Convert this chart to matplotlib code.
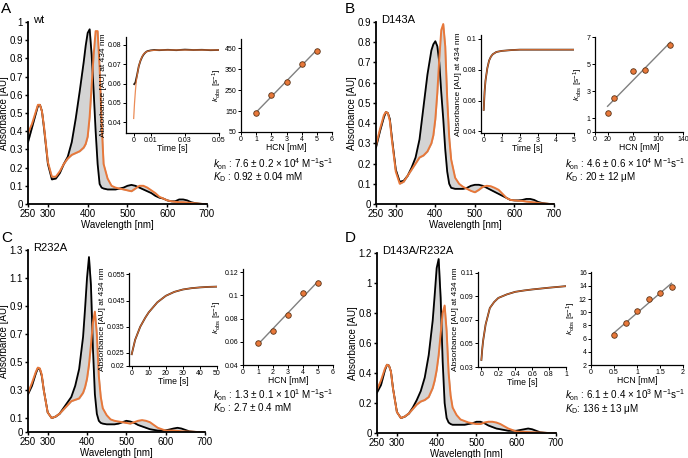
import matplotlib
matplotlib.use('Agg')
import matplotlib.pyplot as plt
import numpy as np

plt.rcParams['font.family'] = ['Liberation Sans', 'DejaVu Sans']
plt.rcParams['mathtext.fontset'] = 'custom'
plt.rcParams['mathtext.rm'] = 'Liberation Sans'
plt.rcParams['mathtext.it'] = 'Liberation Sans:italic'
plt.rcParams['axes.linewidth'] = 1.1

ORANGE = '#e8783a'
GRAY_FILL = '#d4d4d4'

# ---- spectra (shared wavelength grid) ----
WL = [250, 260, 270, 275, 280, 285, 290, 300, 310, 320, 330, 340, 350, 360, 370, 380, 390, 395,
      400, 405, 410, 415, 420, 425, 430, 435, 440, 450, 460, 470, 480, 490, 500, 510, 520, 530,
      540, 550, 560, 570, 580, 590, 600, 610, 620, 630, 640, 650, 660, 670, 680, 690, 700]

wt_start = [0.34, 0.42, 0.50, 0.54, 0.545, 0.51, 0.42, 0.22, 0.135, 0.14, 0.17, 0.22, 0.26, 0.34, 0.47, 0.62, 0.78, 0.87,
            0.94, 0.96, 0.82, 0.62, 0.40, 0.22, 0.11, 0.09, 0.085, 0.08, 0.08, 0.08, 0.085, 0.09, 0.10, 0.105, 0.10, 0.09,
            0.08, 0.07, 0.06, 0.045, 0.035, 0.03, 0.02, 0.015, 0.015, 0.025, 0.025, 0.02, 0.01, 0.005, 0.002, 0.0, 0.0]
wt_end = [0.39, 0.44, 0.51, 0.545, 0.545, 0.51, 0.43, 0.23, 0.15, 0.15, 0.18, 0.22, 0.25, 0.27, 0.28, 0.29, 0.31, 0.33,
          0.37, 0.48, 0.65, 0.82, 0.95, 0.95, 0.75, 0.45, 0.22, 0.14, 0.10, 0.09, 0.085, 0.08, 0.075, 0.07, 0.085, 0.10,
          0.10, 0.09, 0.075, 0.06, 0.04, 0.03, 0.02, 0.015, 0.012, 0.01, 0.01, 0.008, 0.006, 0.004, 0.002, 0.0, 0.0]

d143a_start = [0.28, 0.36, 0.43, 0.455, 0.45, 0.42, 0.33, 0.17, 0.11, 0.115, 0.14, 0.18, 0.23, 0.32, 0.48, 0.64, 0.76, 0.79,
               0.805, 0.78, 0.70, 0.55, 0.42, 0.27, 0.16, 0.10, 0.08, 0.075, 0.075, 0.075, 0.08, 0.09, 0.095, 0.095, 0.09, 0.08,
               0.07, 0.06, 0.05, 0.04, 0.03, 0.02, 0.018, 0.018, 0.02, 0.025, 0.025, 0.02, 0.01, 0.005, 0.002, 0.0, 0.0]
d143a_end = [0.29, 0.37, 0.44, 0.455, 0.45, 0.41, 0.32, 0.16, 0.10, 0.11, 0.14, 0.17, 0.20, 0.23, 0.24, 0.26, 0.30, 0.34,
             0.42, 0.55, 0.72, 0.86, 0.89, 0.78, 0.52, 0.33, 0.22, 0.13, 0.10, 0.085, 0.075, 0.065, 0.058, 0.07, 0.085, 0.09,
             0.088, 0.08, 0.07, 0.05, 0.03, 0.02, 0.018, 0.016, 0.015, 0.012, 0.01, 0.008, 0.005, 0.003, 0.002, 0.0, 0.0]

r232a_start = [0.27, 0.33, 0.42, 0.455, 0.45, 0.40, 0.30, 0.14, 0.10, 0.11, 0.13, 0.17, 0.21, 0.25, 0.33, 0.45, 0.68, 0.88,
               1.10, 1.25, 1.05, 0.60, 0.27, 0.13, 0.08, 0.065, 0.06, 0.055, 0.055, 0.055, 0.06, 0.07, 0.08, 0.075, 0.065, 0.05,
               0.04, 0.03, 0.02, 0.015, 0.01, 0.01, 0.012, 0.018, 0.025, 0.03, 0.025, 0.015, 0.005, 0.002, 0.0, 0.0, 0.0]
r232a_end = [0.28, 0.35, 0.43, 0.46, 0.455, 0.41, 0.30, 0.14, 0.10, 0.11, 0.13, 0.16, 0.19, 0.22, 0.23, 0.24, 0.28, 0.32,
             0.38, 0.48, 0.62, 0.78, 0.86, 0.70, 0.40, 0.25, 0.17, 0.12, 0.09, 0.08, 0.075, 0.07, 0.065, 0.06, 0.07, 0.08,
             0.085, 0.08, 0.07, 0.05, 0.03, 0.02, 0.01, 0.01, 0.01, 0.008, 0.005, 0.004, 0.003, 0.002, 0.0, 0.0, 0.0]

dm_start = [0.27, 0.32, 0.42, 0.455, 0.45, 0.41, 0.30, 0.14, 0.10, 0.11, 0.13, 0.17, 0.22, 0.28, 0.37, 0.52, 0.75, 0.92,
            1.10, 1.16, 0.90, 0.48, 0.20, 0.10, 0.07, 0.06, 0.055, 0.055, 0.055, 0.055, 0.06, 0.065, 0.075, 0.075, 0.065, 0.05,
            0.04, 0.03, 0.025, 0.02, 0.015, 0.015, 0.015, 0.02, 0.025, 0.03, 0.025, 0.015, 0.005, 0.002, 0.0, 0.0, 0.0]
dm_end = [0.29, 0.35, 0.43, 0.455, 0.45, 0.41, 0.30, 0.14, 0.10, 0.11, 0.13, 0.16, 0.19, 0.21, 0.22, 0.24, 0.30, 0.35,
          0.42, 0.52, 0.66, 0.80, 0.85, 0.68, 0.40, 0.25, 0.17, 0.12, 0.09, 0.08, 0.07, 0.065, 0.06, 0.06, 0.07, 0.075,
          0.075, 0.07, 0.06, 0.045, 0.03, 0.02, 0.01, 0.008, 0.008, 0.006, 0.005, 0.004, 0.003, 0.002, 0.0, 0.0, 0.0]

# ---- stopped-flow traces at 434 nm ----
wt_t = [0.0003, 0.001, 0.002, 0.003, 0.004, 0.005, 0.006, 0.007, 0.008, 0.01, 0.012, 0.015, 0.02, 0.025, 0.03, 0.035, 0.04, 0.045, 0.05]
wt_trace = [0.0597, 0.0605, 0.0645, 0.0690, 0.0718, 0.0738, 0.0752, 0.0761, 0.0767, 0.0771, 0.0773, 0.0772, 0.0774, 0.0772,
            0.0775, 0.0773, 0.0774, 0.0772, 0.0773]
wt_fit_t = [0.0, 0.0005, 0.001, 0.0015, 0.002, 0.003, 0.004, 0.005, 0.006, 0.008, 0.01, 0.015, 0.02, 0.05]
wt_fit = [0.042, 0.050, 0.056, 0.061, 0.064, 0.069, 0.072, 0.074, 0.0755, 0.0766, 0.0770, 0.0773, 0.0773, 0.0773]

d143a_t = [0, 0.05, 0.1, 0.2, 0.3, 0.4, 0.5, 0.7, 1.0, 1.5, 2, 3, 4, 5]
d143a_trace = [0.054, 0.066, 0.073, 0.081, 0.086, 0.0885, 0.090, 0.0915, 0.0922, 0.0927, 0.093, 0.093, 0.093, 0.093]

r232a_t = [0, 2, 5, 8, 10, 15, 20, 25, 30, 35, 40, 45, 50]
r232a_trace = [0.0245, 0.030, 0.035, 0.0385, 0.0405, 0.0443, 0.0468, 0.0483, 0.0492, 0.0497, 0.0500, 0.0502, 0.0503]

dm_t = [0, 0.01, 0.02, 0.05, 0.1, 0.15, 0.2, 0.3, 0.4, 0.5, 0.6, 0.8, 1.0]
dm_trace = [0.036, 0.045, 0.052, 0.066, 0.080, 0.085, 0.0885, 0.0915, 0.0937, 0.0948, 0.0957, 0.0972, 0.0985]

# ---- k_obs vs [HCN] ----
wt_hcn = [1, 2, 3, 4, 5]
wt_kobs = [141, 224, 287, 374, 437]
d143a_hcn = [20, 30, 60, 80, 120]
d143a_kobs = [1.4, 2.5, 4.5, 4.6, 6.4]
r232a_hcn = [1, 2, 3, 4, 5]
r232a_kobs = [0.0594, 0.0694, 0.0829, 0.1023, 0.1109]
dm_hcn = [0.5, 0.75, 1.0, 1.25, 1.5, 1.75]
dm_kobs = [6.5, 8.3, 10.2, 12.0, 12.9, 13.9]

W, H = 688, 458
fig = plt.figure(figsize=(W / 100, H / 100), dpi=100)


def px_axes(x0, y0, x1, y1):
    return fig.add_axes([x0 / W, 1 - y1 / H, (x1 - x0) / W, (y1 - y0) / H])


def style(ax, lw, tsize, tlen):
    for s in ['top', 'right']:
        ax.spines[s].set_visible(False)
    for s in ['left', 'bottom']:
        ax.spines[s].set_linewidth(lw)
    ax.tick_params(direction='out', length=tlen, width=lw * 0.8, labelsize=tsize, pad=1)


def fmt(v):
    return ('%g' % v)


panels = [
    dict(letter='A', name='wt', ox=0, oy=0, main=(28, 22, 207, 204), ylim=(0, 1.0),
         yticks=[0, 0.1, 0.2, 0.3, 0.4, 0.5, 0.6, 0.7, 0.8, 0.9, 1.0], start=wt_start, end=wt_end,
         k1=(126, 37, 219, 133), k1x=(-0.0045, 0.05), k1y=(0.0345, 0.084), k1xt=[0, 0.01, 0.03, 0.05],
         k1yt=[0.04, 0.05, 0.06, 0.07, 0.08], tr_t=wt_t, tr=wt_trace, fit_t=wt_fit_t, fit=wt_fit,
         k2=(241, 39, 332, 132), k2x=(0, 6), k2y=(50, 493), k2xt=[0, 1, 2, 3, 4, 5, 6], k2yt=[50, 150, 250, 350, 450],
         hcn=wt_hcn, kobs=wt_kobs,
         kon=r'$k_\mathrm{on}$ : 7.6 ± 0.2 × 10$^{4}$ M$^{-1}$s$^{-1}$', kd=r'$K_\mathrm{D}$ : 0.92 ± 0.04 mM',
         txt=(213, 164)),
    dict(letter='B', name='D143A', ox=344, oy=0, main=(376, 22, 554, 204), ylim=(0, 0.9),
         yticks=[0, 0.1, 0.2, 0.3, 0.4, 0.5, 0.6, 0.7, 0.8, 0.9], start=d143a_start, end=d143a_end,
         k1=(481, 35, 574, 133), k1x=(-0.15, 5), k1y=(0.039, 0.1025), k1xt=[0, 1, 2, 3, 4, 5],
         k1yt=[0.04, 0.06, 0.08, 0.1], tr_t=d143a_t, tr=d143a_trace, fit_t=d143a_t, fit=d143a_trace,
         k2=(595, 37, 683, 132), k2x=(0, 140), k2y=(0, 7), k2xt=[0, 20, 60, 100, 140], k2yt=[0, 1, 3, 5, 7],
         hcn=d143a_hcn, kobs=d143a_kobs,
         kon=r'$k_\mathrm{on}$ : 4.6 ± 0.6 × 10$^{4}$ M$^{-1}$s$^{-1}$', kd=r'$K_\mathrm{D}$ : 20 ± 12 μM',
         txt=(565, 164)),
    dict(letter='C', name='R232A', ox=0, oy=229, main=(28, 250, 205, 432), ylim=(0, 1.3),
         yticks=[0, 0.1, 0.3, 0.5, 0.7, 0.9, 1.1, 1.3], start=r232a_start, end=r232a_end,
         k1=(129, 273, 217, 366), k1x=(-1.6, 50), k1y=(0.02, 0.0555), k1xt=[0, 10, 20, 30, 40, 50],
         k1yt=[0.02, 0.025, 0.035, 0.045, 0.055], tr_t=r232a_t, tr=r232a_trace, fit_t=r232a_t, fit=r232a_trace,
         k2=(243, 269, 333, 365), k2x=(0, 6), k2y=(0.04, 0.1228), k2xt=[0, 1, 2, 3, 4, 5, 6],
         k2yt=[0.04, 0.06, 0.08, 0.1, 0.12], hcn=r232a_hcn, kobs=r232a_kobs,
         kon=r'$k_\mathrm{on}$ : 1.3 ± 0.1 × 10$^{1}$ M$^{-1}$s$^{-1}$', kd=r'$K_\mathrm{D}$ : 2.7 ± 0.4 mM',
         txt=(213, 395)),
    dict(letter='D', name='D143A/R232A', ox=344, oy=229, main=(377, 253, 556, 433), ylim=(0, 1.2),
         yticks=[0, 0.2, 0.4, 0.6, 0.8, 1.0, 1.2], start=dm_start, end=dm_end,
         k1=(478, 272, 566, 367), k1x=(-0.04, 1), k1y=(0.03, 0.1105), k1xt=[0, 0.2, 0.4, 0.6, 0.8, 1.0],
         k1yt=[0.03, 0.05, 0.07, 0.09, 0.11], tr_t=dm_t, tr=dm_trace, fit_t=dm_t, fit=dm_trace,
         k2=(591, 272, 683, 365), k2x=(0, 2), k2y=(2, 16.1), k2xt=[0, 0.5, 1, 1.5, 2],
         k2yt=[2, 4, 6, 8, 10, 12, 14, 16], hcn=dm_hcn, kobs=dm_kobs,
         kon=r'$k_\mathrm{on}$ : 6.1 ± 0.4 × 10$^{3}$ M$^{-1}$s$^{-1}$', kd=r'$K_\mathrm{D}$: 136 ± 13 μM',
         txt=(565, 395)),
]

for p in panels:
    # main spectra
    ax = px_axes(*p['main'])
    style(ax, 1.3, 7, 2.5)
    ax.fill_between(WL, p['start'], p['end'], color=GRAY_FILL, lw=0.6, edgecolor='#b8b8b8')
    ax.plot(WL, p['start'], color='black', lw=1.3)
    ax.plot(WL, p['end'], color=ORANGE, lw=1.4)
    ax.set_xlim(250, 700)
    ax.set_ylim(*p['ylim'])
    ax.set_xticks([250, 300, 400, 500, 600, 700])
    ax.set_yticks(p['yticks'])
    ax.set_yticklabels([fmt(v) for v in p['yticks']])
    ax.set_xlabel('Wavelength [nm]', fontsize=7, labelpad=0.5)
    ax.set_ylabel('Absorbance [AU]', fontsize=7, labelpad=0.5)
    fig.text((p['ox'] + 1) / W, 1 - (p['oy'] + 2) / H, p['letter'], fontsize=11, va='top', ha='left')
    x0, y0 = p['main'][0], p['main'][1]
    fig.text((x0 + 5) / W, 1 - (y0 - 2) / H, p['name'], fontsize=8, va='center', ha='left')

    # kinetic trace inset
    a1 = px_axes(*p['k1'])
    style(a1, 0.9, 5, 2)
    a1.plot(p['tr_t'], p['tr'], color='#2a1a10', lw=1.3)
    a1.plot(p['fit_t'], p['fit'], color=ORANGE, lw=0.9, alpha=0.85)
    a1.set_xlim(*p['k1x'])
    a1.set_ylim(*p['k1y'])
    a1.set_xticks(p['k1xt'])
    a1.set_xticklabels([fmt(v) for v in p['k1xt']])
    a1.set_yticks(p['k1yt'])
    a1.set_yticklabels([fmt(v) for v in p['k1yt']])
    a1.set_xlabel('Time [s]', fontsize=6.2, labelpad=0)
    a1.set_ylabel('Absorbance [AU] at 434 nm', fontsize=6, labelpad=1)

    # k_obs inset
    a2 = px_axes(*p['k2'])
    style(a2, 0.9, 5, 2)
    slope, icpt = np.polyfit(p['hcn'], p['kobs'], 1)
    xs = np.array([min(p['hcn']), max(p['hcn'])])
    a2.plot(xs, slope * xs + icpt, color='#808080', lw=1.0)
    a2.plot(p['hcn'], p['kobs'], 'o', ms=4, mfc=ORANGE, mec='#5a3418', mew=0.6)
    a2.set_xlim(*p['k2x'])
    a2.set_ylim(*p['k2y'])
    a2.set_xticks(p['k2xt'])
    a2.set_xticklabels([fmt(v) for v in p['k2xt']])
    a2.set_yticks(p['k2yt'])
    a2.set_yticklabels([fmt(v) for v in p['k2yt']])
    a2.set_xlabel('HCN [mM]', fontsize=6.2, labelpad=0)
    a2.set_ylabel(r'$k_\mathrm{obs}$ [s$^{-1}$]', fontsize=6, labelpad=1)

    tx, ty = p['txt']
    fig.text(tx / W, 1 - ty / H, p['kon'], fontsize=7.1, va='center', ha='left')
    fig.text(tx / W, 1 - (ty + 13.5) / H, p['kd'], fontsize=7.1, va='center', ha='left')

fig.savefig('out.png', dpi=100)
